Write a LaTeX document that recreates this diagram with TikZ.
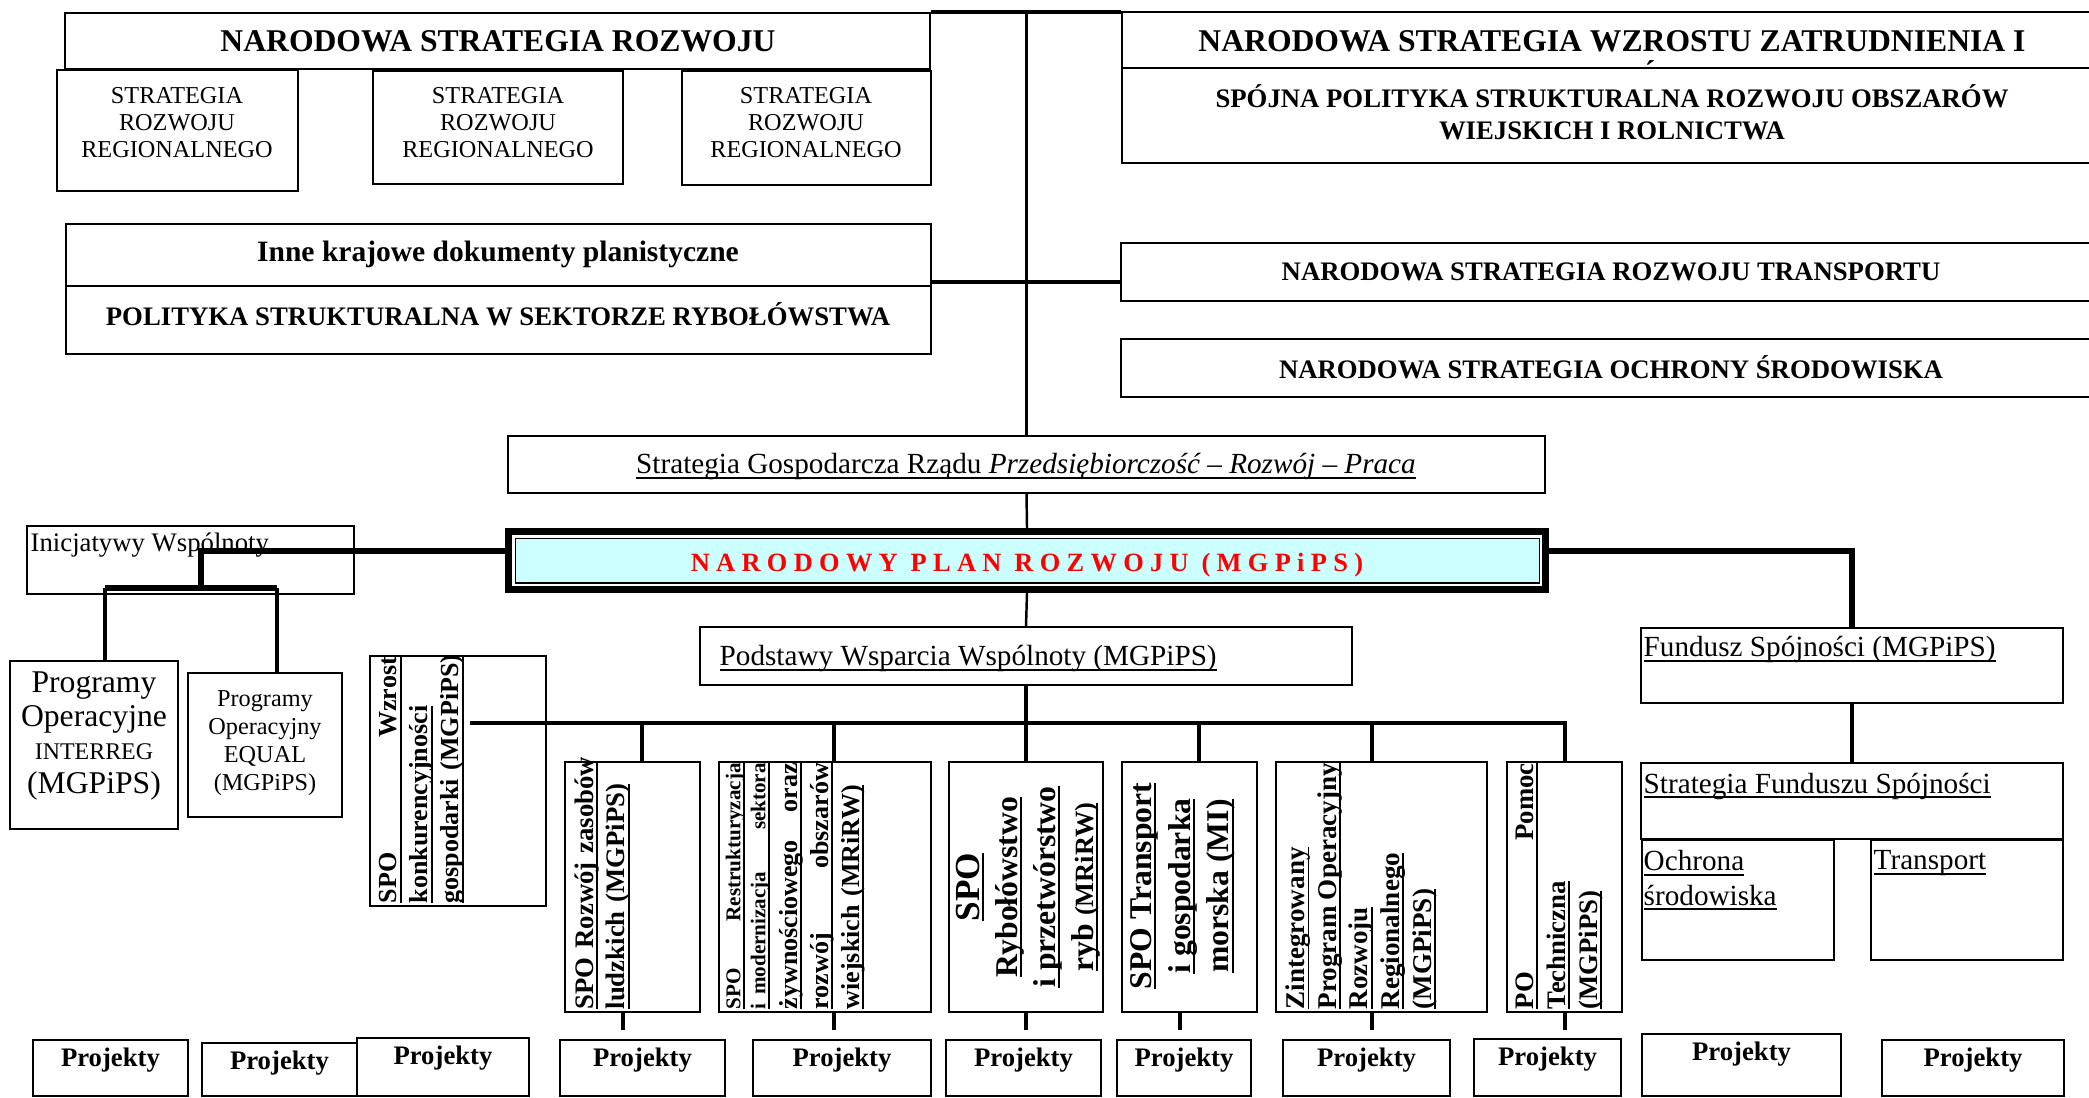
\documentclass[tikz,border=0pt]{standalone}
\usepackage{fontspec}
\setmainfont{Liberation Serif}
\usetikzlibrary{fit}
\definecolor{nprcyan}{HTML}{CCFFFF}
\newsavebox\undlbox
\newcommand{\undl}[1]{\leavevmode\sbox\undlbox{#1}\rlap{\rule[-1.4pt]{\wd\undlbox}{0.55pt}}\usebox\undlbox}
\newcommand{\fsz}[2]{\fontsize{#1}{#2}\selectfont}
\begin{document}
\begin{tikzpicture}[x=0.01cm,y=-0.01cm,
    box/.style={draw,line width=0.5pt,inner sep=0pt},
    conn/.style={line width=1pt},
    heavy/.style={line width=1.5pt},
    spine/.style={line width=0.7pt},
    ttl/.style={font=\fsz{9}{11}\bfseries},
    hd/.style={font=\fsz{7.6}{9.1}\bfseries},
    sm/.style={font=\fsz{6.9}{7.7},align=center},
    ul/.style={font=\fsz{8.3}{9.7},inner sep=0pt},
    vcol/.style={rotate=90,inner sep=0pt,anchor=north west,align=left,text width=2.46cm},
    pj/.style={font=\fsz{7.6}{9}\bfseries,inner sep=0pt,anchor=north,yshift=-2.3pt}]
  \useasboundingbox (0,0) rectangle (2089,1098);
  % strategie krajowe
  \node[box,fit={(65,13) (930,69)}] (nsr) {};
  \node[ttl] (nsrT) at (498,41) {NARODOWA STRATEGIA ROZWOJU};
  \node[box,fit={(57,70) (298,191)}] (srr1) {};
  \node[sm] (srr1T) at (177,123) {STRATEGIA\\ROZWOJU\\REGIONALNEGO};
  \node[box,fit={(373,71) (623,184)}] (srr2) {};
  \node[sm] (srr2T) at (498,123) {STRATEGIA\\ROZWOJU\\REGIONALNEGO};
  \node[box,fit={(682,71) (931,185)}] (srr3) {};
  \node[sm] (srr3T) at (806,123) {STRATEGIA\\ROZWOJU\\REGIONALNEGO};
  \node[box,fit={(1122,12) (2102,68)}] (nszz) {};
  \node[ttl] (nszzT) at (1612,41) {NARODOWA STRATEGIA WZROSTU ZATRUDNIENIA I};
  \node[font=\fsz{9}{9}\bfseries,inner sep=0pt] (acc) at (1650,72) {´};
  \node[box,fit={(1122,68) (2102,163)}] (spoj) {};
  \node[hd,align=center] (spojT) at (1612,112) {SPÓJNA POLITYKA STRUKTURALNA ROZWOJU OBSZARÓW\\WIEJSKICH I ROLNICTWA};
  \node[box,fit={(66,224) (931,286)}] (inne) {};
  \node[font=\fsz{8.4}{10}\bfseries] (inneT) at (498,254) {Inne krajowe dokumenty planistyczne};
  \node[box,fit={(66,286) (931,354)}] (polit) {};
  \node[hd] (politT) at (498,314) {POLITYKA STRUKTURALNA W SEKTORZE RYBOŁÓWSTWA};
  \node[box,fit={(1121,243) (2102,301)}] (nsrt) {};
  \node[hd] (nsrtT) at (1611,272) {NARODOWA STRATEGIA ROZWOJU TRANSPORTU};
  \node[box,fit={(1121,339) (2102,397)}] (nsos) {};
  \node[hd] (nsosT) at (1611,367) {NARODOWA STRATEGIA OCHRONY ŚRODOWISKA};
  % plan
  \node[box,fit={(508,436) (1545,493)}] (sgr) {};
  \node[ul] (sgrT) at (1026,467) {\undl{Strategia Gospodarcza Rządu \textit{Przedsiębiorczość – Rozwój – Praca}}};
  \node[box,line width=1.9pt,fill=white,fit={(508.5,531.5) (1545.5,589.5)}] (npr) {};
  \node[box,fill=nprcyan,fit={(515.5,538.5) (1539.5,583)}] (nprIn) {};
  \node[font=\fsz{7.5}{9}\bfseries,text=red] (nprT) at (1027,565) {\addfontfeatures{LetterSpace=24}NARODOWY PLAN ROZWOJU (MGPiPS)};
  \node[box,fit={(27,526) (354,594)}] (inic) {};
  \node[font=\fsz{7.6}{9},inner sep=0pt,anchor=west] (inicT) at (30,545) {Inicjatywy Wspólnoty};
  \node[box,fit={(10,661) (178,829)}] (interreg) {};
  \node[align=center,font=\fsz{9}{9.5}] (interregT) at (94,736) {Programy\\Operacyjne\\{\fsz{6.8}{9.5}INTERREG}\\(MGPiPS)};
  \node[box,fit={(188,673) (342,817)}] (equal) {};
  \node[align=center,font=\fsz{6.9}{8}] (equalT) at (265,743) {Programy\\Operacyjny\\EQUAL\\(MGPiPS)};
  \node[box,fit={(700,627) (1352,685)}] (pod) {};
  \node[ul,anchor=west] (podT) at (719,659) {\undl{Podstawy Wsparcia Wspólnoty (MGPiPS)}};
  \node[box,fit={(1641,628) (2063,703)}] (fund) {};
  \node[ul,anchor=north west] (fundT) at (1643,636) {\undl{Fundusz Spójności (MGPiPS)}};
  \node[box,fit={(1641,763) (2063,839)}] (sfs) {};
  \node[ul,anchor=north west] (sfsT) at (1643,772) {\undl{Strategia Funduszu Spójności}};
  \node[box,fit={(1642,840) (1834,960)}] (ochr) {};
  \node[ul,anchor=north west,align=left] (ochrT) at (1643,850) {\undl{Ochrona}\\\undl{środowiska}};
  \node[box,fit={(1871,840) (2063,960)}] (trp) {};
  \node[ul,anchor=north west] (trpT) at (1873,850) {\undl{Transport}};
  % programy sektorowe
  \node[box,fit={(370,656) (546,906)}] (wz) {};
  \node[vcol,font=\fsz{7.4}{8.8}\bfseries] (wzT) at (379,904) {\undl{\makebox[\linewidth]{SPO\hfill Wzrost}}\\\undl{konkurencyjności}\\\undl{gospodarki (MGPiPS)}};
  \node[box,fit={(565,762) (700,1012)}] (rozwoj) {};
  \node[vcol,font=\fsz{7.6}{9}\bfseries] (rozwojT) at (574,1010) {\undl{\makebox[\linewidth][s]{SPO Rozwój zasobów}}\\\undl{ludzkich (MGPiPS)}};
  \node[box,fit={(719,762) (931,1012)}] (restr) {};
  \node[vcol,font=\fsz{7.4}{8.8}\bfseries] (restrT) at (725,1010) {{\fsz{6}{8.8}\undl{\makebox[\linewidth]{SPO\hfill Restrukturyzacja}}}\\[-1.7pt]{\fsz{6}{8.8}\undl{\makebox[\linewidth]{i modernizacja\hfill sektora}}}\\[0.3pt]\undl{\makebox[\linewidth]{żywnościowego\hfill oraz}}\\\undl{\makebox[\linewidth]{rozwój\hfill obszarów}}\\\undl{wiejskich (MRiRW)}};
  \node[box,fit={(949,762) (1103,1012)}] (ryb) {};
  \node[rotate=90,inner sep=0pt,align=center,font=\fsz{9}{10.8}\bfseries] (rybT) at (1028,887) {{\fsz{10}{10.8}\undl{SPO}}\\\undl{Rybołówstwo}\\\undl{i przetwórstwo}\\\undl{ryb {\fsz{7.5}{10.8}(MRiRW)}}};
  \node[box,fit={(1122,762) (1257,1012)}] (trans) {};
  \node[rotate=90,inner sep=0pt,align=center,font=\fsz{9}{11}\bfseries] (transT) at (1183,886) {\undl{SPO Transport}\\\undl{i gospodarka}\\\undl{morska (MI)}};
  \node[box,fit={(1276,762) (1487,1012)}] (zint) {};
  \node[vcol,font=\fsz{7.7}{9}\bfseries] (zintT) at (1285,1010) {\undl{Zintegrowany}\\\undl{\makebox[\linewidth]{Program\hfill Operacyjny}}\\\undl{Rozwoju}\\\undl{Regionalnego}\\\undl{(MGPiPS)}};
  \node[box,fit={(1507,762) (1622,1012)}] (pomoc) {};
  \node[vcol,font=\fsz{7.6}{9.1}\bfseries] (pomocT) at (1515,1010) {\undl{\makebox[\linewidth]{PO\hfill Pomoc}}\\\undl{Techniczna}\\\undl{(MGPiPS)}};
  % projekty
  \foreach \n/\a/\b/\c in {1/33/1040/188, 2/202/1043/357, 3/357/1038/529, 4/560/1040/725,
      5/753/1040/931, 6/946/1040/1101, 7/1117/1040/1251, 8/1283/1040/1450,
      9/1474/1039/1621, 10/1642/1034/1841, 11/1882/1040/2064} {
    \node[box,fit={(\a,\b) (\c,1096)}] (P\n) {};
    \node[pj] (pj\n) at (P\n.north) {Projekty};
  }
  % polaczenia
  \draw[conn] (nsr.north east) -- (nsr.north east -| nszz.west);
  \draw[spine] (nsr.north east -| sgr.north) -- (sgr.north);
  \coordinate (jIn) at (1121,282);
  \draw[conn] (inne.east |- jIn) -- (jIn);
  \draw[spine] (sgr.south) -- (npr.north);
  \draw[spine] (npr.south) -- (pod.north);
  \draw[conn] (pod.south) -- (ryb.north);
  \coordinate (jL) at (201,551);
  \coordinate (jL2) at (201,588);
  \coordinate (jIR) at (105,588);
  \coordinate (jEQ) at (277,588);
  \draw[heavy] (npr.west |- jL) -- (jL) -- (jL2);
  \draw[heavy] (jIR) -- (jEQ);
  \draw[conn] (jIR) -- (jIR |- interreg.north);
  \draw[conn] (jEQ) -- (jEQ |- equal.north);
  \coordinate (jR) at (1852,551);
  \draw[heavy] (npr.east |- jR) -- (jR) -- (fund.north);
  \draw[conn] (fund.south) -- (sfs.north);
  \coordinate (hubL) at (470,723);
  \coordinate (hubR) at (1565,723);
  \draw[conn] (hubL) -- (hubR) -- (hubR |- pomoc.north);
  \foreach \n/\x in {rozwoj/642, restr/834, trans/1199, zint/1372} {
    \coordinate (d\n) at (\x,723);
    \draw[conn] (d\n) -- (d\n |- \n.north);
  }
  \foreach \n/\x in {rozwoj/623, restr/834, ryb/1026, trans/1180, zint/1372, pomoc/1565} {
    \coordinate (p\n) at (\x,1030);
    \draw[conn] (p\n |- \n.south) -- (p\n);
  }
\end{tikzpicture}
\end{document}
